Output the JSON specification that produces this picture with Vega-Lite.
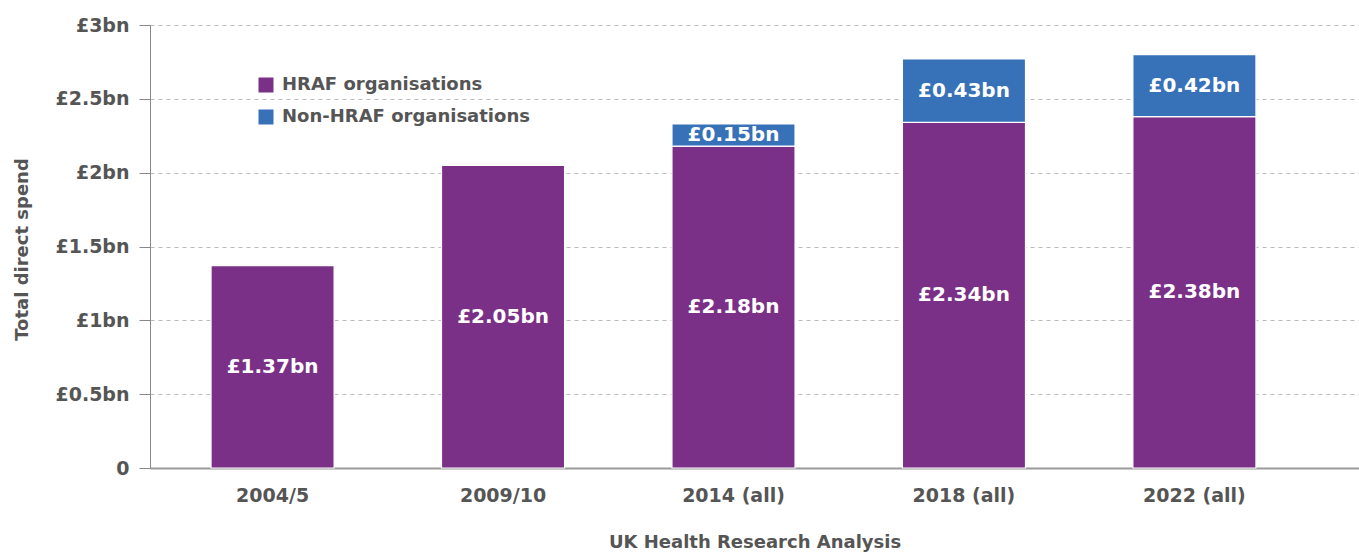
{
  "$schema": "https://vega.github.io/schema/vega-lite/v6.json",
  "width": 1209,
  "height": 443,
  "autosize": {"type": "none"},
  "padding": {"left": 150, "top": 25, "right": 0, "bottom": 86},
  "background": "white",
  "config": {
    "font": "DejaVu Sans",
    "view": {"stroke": null},
    "locale": {"number": {"decimal": ".", "thousands": ",", "grouping": [3], "currency": ["£", "bn"]}}
  },
  "data": {
    "values": [
      {"year": "2004/5", "group": "HRAF organisations", "value": 1.37},
      {"year": "2009/10", "group": "HRAF organisations", "value": 2.05},
      {"year": "2014 (all)", "group": "HRAF organisations", "value": 2.18},
      {"year": "2014 (all)", "group": "Non-HRAF organisations", "value": 0.15},
      {"year": "2018 (all)", "group": "HRAF organisations", "value": 2.34},
      {"year": "2018 (all)", "group": "Non-HRAF organisations", "value": 0.43},
      {"year": "2022 (all)", "group": "HRAF organisations", "value": 2.38},
      {"year": "2022 (all)", "group": "Non-HRAF organisations", "value": 0.42}
    ]
  },
  "encoding": {
    "x": {
      "field": "year",
      "type": "nominal",
      "sort": ["2004/5", "2009/10", "2014 (all)", "2018 (all)", "2022 (all)"],
      "scale": {"paddingInner": 0.466, "paddingOuter": 0.356, "align": 0.372},
      "axis": {
        "title": "UK Health Research Analysis",
        "titleFontSize": 18,
        "titleFontWeight": "bold",
        "titleColor": "#555555",
        "titleY": 74,
        "titleBaseline": "middle",
        "labelAngle": 0,
        "labelFontSize": 19,
        "labelFontWeight": "bold",
        "labelColor": "#555555",
        "labelPadding": 18,
        "ticks": false,
        "tickSize": 0,
        "domainColor": "#9a9a9a",
        "domainWidth": 2,
        "grid": false
      }
    }
  },
  "layer": [
    {
      "mark": {"type": "bar", "stroke": "white", "strokeWidth": 1.2},
      "encoding": {
        "y": {
          "field": "value",
          "type": "quantitative",
          "stack": "zero",
          "scale": {"domain": [0, 3], "nice": false},
          "axis": {
            "title": "Total direct spend",
            "titleFontSize": 18,
            "titleFontWeight": "bold",
            "titleColor": "#555555",
            "titleX": -128,
            "titleY": 224,
            "titleAngle": -90,
            "titleBaseline": "middle",
            "titleAlign": "center",
            "values": [0, 0.5, 1, 1.5, 2, 2.5, 3],
            "labelExpr": "datum.value == 0 ? '0' : '£' + datum.value + 'bn'",
            "labelFontSize": 19,
            "labelFontWeight": "bold",
            "labelColor": "#555555",
            "labelPadding": 10,
            "tickSize": 11,
            "tickColor": "#888888",
            "domainColor": "#888888",
            "gridColor": "#bbbbbb",
            "gridDash": [4, 4],
            "gridWidth": 1
          }
        },
        "color": {
          "field": "group",
          "type": "nominal",
          "scale": {"domain": ["HRAF organisations", "Non-HRAF organisations"], "range": ["#7b3088", "#3771b8"]},
          "legend": {
            "title": null,
            "orient": "none",
            "legendX": 107,
            "legendY": 51,
            "symbolType": "square",
            "symbolSize": 225,
            "symbolStrokeWidth": 0,
            "labelFontSize": 18,
            "labelFontWeight": "bold",
            "labelColor": "#555555",
            "labelOffset": 7,
            "labelLimit": 0,
            "rowPadding": 14
          }
        },
        "order": {"field": "group", "type": "nominal", "sort": "ascending"}
      }
    },
    {
      "transform": [
        {"stack": "value", "groupby": ["year"], "sort": [{"field": "group", "order": "ascending"}], "as": ["v0", "v1"]},
        {"fold": ["v0", "v1"], "as": ["edge", "pos"]},
        {"aggregate": [{"op": "mean", "field": "pos", "as": "mid"}], "groupby": ["year", "group", "value"]}
      ],
      "mark": {"type": "text", "color": "white", "fontSize": 20, "fontWeight": "bold", "baseline": "middle", "align": "center"},
      "encoding": {
        "y": {"field": "mid", "type": "quantitative", "title": "Total direct spend"},
        "text": {"field": "value", "type": "quantitative", "format": "$.2f"}
      }
    }
  ]
}
